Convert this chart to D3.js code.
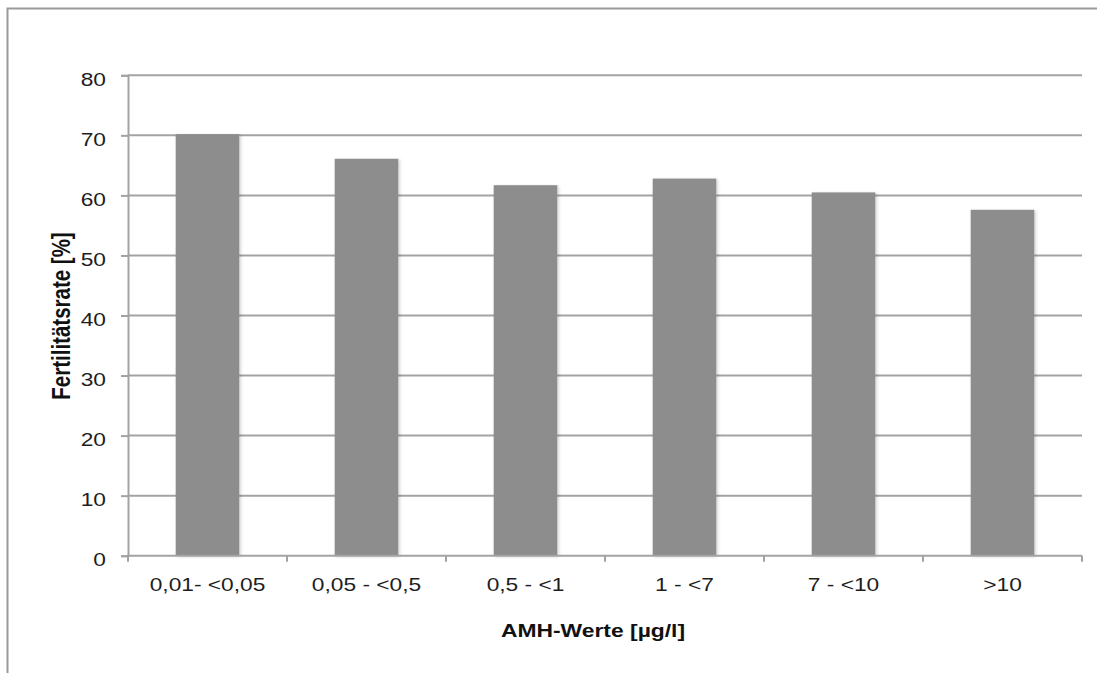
<!DOCTYPE html>
<html>
<head>
<meta charset="utf-8">
<script src="https://cdn.jsdelivr.net/npm/d3@7"></script>
<style>
  html, body { margin: 0; padding: 0; background: #fff; }
  svg { display: block; font-family: "Liberation Sans", Arial, Helvetica, sans-serif; }
</style>
</head>
<body>
<svg id="chart" width="1097" height="673"></svg>
<script>
// Fertilitätsrate je AMH-Gruppe
const categories = ["0,01- <0,05", "0,05 - <0,5", "0,5 - <1", "1 - <7", "7 - <10", ">10"];
const fertilityRate = [70.2, 66.1, 61.7, 62.8, 60.5, 57.6];
const yTicks = [0, 10, 20, 30, 40, 50, 60, 70, 80];
const yTitle = "Fertilitätsrate [%]";
const xTitle = "AMH-Werte [µg/l]";

const W = 1097, H = 673;
const plot = { left: 128, right: 1082, top: 75.3, bottom: 555.7 };
const stretch = 1.23; // text is drawn slightly wide

const svg = d3.select("#chart");

// drop shadow under bars
const defs = svg.append("defs");
const f = defs.append("filter").attr("id", "barShadow")
  .attr("x", "-10%").attr("y", "-10%").attr("width", "130%").attr("height", "130%");
f.append("feDropShadow").attr("dx", 1.5).attr("dy", 1).attr("stdDeviation", 1.6)
  .attr("flood-color", "#000").attr("flood-opacity", 0.18);

// outer frame (top and left edges)
svg.append("path")
  .attr("d", `M7.5,${H} L7.5,8.5 L${W},8.5`)
  .attr("fill", "none").attr("stroke", "#9a9a9a").attr("stroke-width", 2);

const x = d3.scaleBand()
  .domain(categories)
  .range([plot.left, plot.right])
  .paddingInner(0.6)
  .paddingOuter(0.3);

const y = d3.scaleLinear()
  .domain([0, 80])
  .range([plot.bottom, plot.top]);

// horizontal gridlines
svg.append("g").selectAll("line")
  .data(yTicks.filter(d => d > 0))
  .join("line")
  .attr("x1", plot.left).attr("x2", plot.right)
  .attr("y1", d => y(d)).attr("y2", d => y(d))
  .attr("stroke", "#a3a3a3").attr("stroke-width", 2);

// bars
svg.append("g").selectAll("rect")
  .data(categories.map((c, i) => ({ c, v: fertilityRate[i] })))
  .join("rect")
  .attr("x", d => x(d.c))
  .attr("width", x.bandwidth())
  .attr("y", d => y(d.v))
  .attr("height", d => y(0) - y(d.v))
  .attr("fill", "#8d8d8d")
  .attr("filter", "url(#barShadow)");

// y axis
const yAxis = svg.append("g")
  .attr("transform", `translate(${plot.left},0)`)
  .call(d3.axisLeft(y).tickValues(yTicks).tickSize(7).tickFormat(d3.format("d")));
yAxis.select(".domain").attr("stroke", "#a3a3a3").attr("stroke-width", 2);
yAxis.selectAll(".tick line").attr("stroke", "#a3a3a3").attr("stroke-width", 2);
yAxis.selectAll(".tick text")
  .attr("x", 0).attr("y", 0).attr("dy", null)
  .attr("text-anchor", "end")
  .attr("transform", `translate(-22,9.7) scale(${stretch},1)`)
  .attr("fill", "#1e1e1e")
  .style("font-size", "18.5px")
  .style("font-family", "'Liberation Sans', Arial, sans-serif");

// x axis line and category boundary ticks
const step = x.step();
const first = plot.left;
const bounds = d3.range(categories.length + 1).map(i => first + i * step);
svg.append("line")
  .attr("x1", plot.left - 1).attr("x2", plot.right)
  .attr("y1", y(0)).attr("y2", y(0))
  .attr("stroke", "#a3a3a3").attr("stroke-width", 2);
svg.append("g").selectAll("line")
  .data(bounds)
  .join("line")
  .attr("x1", d => d).attr("x2", d => d)
  .attr("y1", y(0)).attr("y2", y(0) + 6)
  .attr("stroke", "#a3a3a3").attr("stroke-width", 2);

// category labels
svg.append("g").selectAll("text")
  .data(categories)
  .join("text")
  .attr("text-anchor", "middle")
  .attr("transform", d => `translate(${x(d) + x.bandwidth() / 2},590.7) scale(${stretch},1)`)
  .attr("fill", "#1e1e1e")
  .style("font-size", "18.5px")
  .text(d => d);

// axis titles
svg.append("text")
  .attr("text-anchor", "middle")
  .attr("transform", `translate(593,636.7) scale(${stretch},1)`)
  .attr("fill", "#111")
  .style("font-size", "18.6px").style("font-weight", "bold")
  .text(xTitle);

svg.append("text")
  .attr("text-anchor", "middle")
  .attr("transform", `translate(69.5,316) scale(${stretch},1) rotate(-90)`)
  .attr("fill", "#111")
  .style("font-size", "20.5px").style("font-weight", "bold")
  .text(yTitle);
</script>
</body>
</html>
